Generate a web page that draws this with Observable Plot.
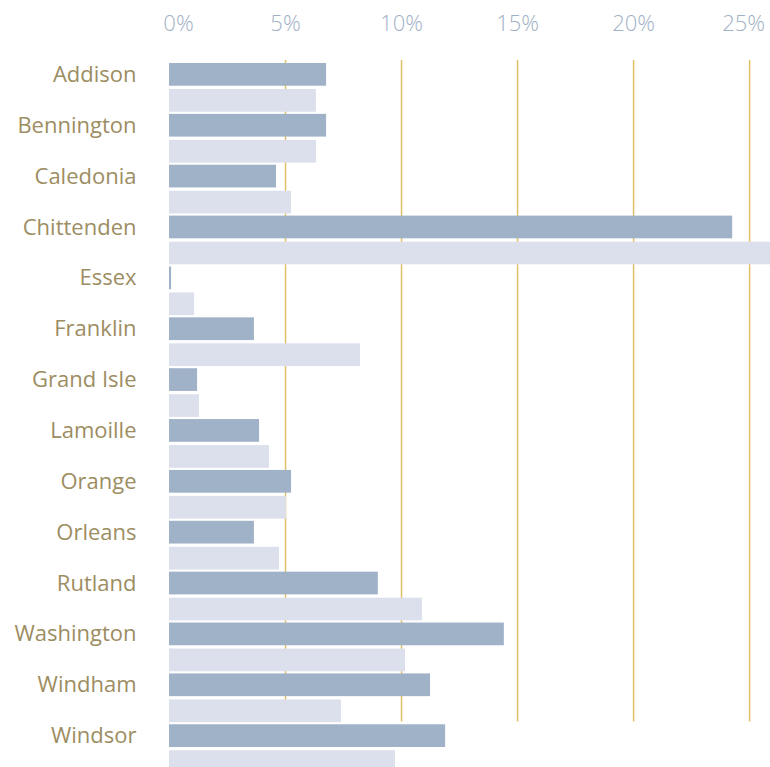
<!DOCTYPE html>
<html>
<head>
<meta charset="utf-8">
<script src="https://cdn.jsdelivr.net/npm/d3@7"></script>
<script src="https://cdn.jsdelivr.net/npm/@observablehq/plot@0.6"></script>
<style>
  html, body { margin: 0; padding: 0; background: #fff; overflow: hidden; }
  #chart svg { display: block; }
</style>
</head>
<body>
<div id="chart"></div>
<script>
const counties = ["Addison","Bennington","Caledonia","Chittenden","Essex","Franklin","Grand Isle","Lamoille","Orange","Orleans","Rutland","Washington","Windham","Windsor"];
const seriesA = [6.77, 6.77, 4.61, 24.27, 0.09, 3.66, 1.21, 3.88, 5.26, 3.66, 9.0, 14.43, 11.25, 11.9];
const seriesB = [6.33, 6.34, 5.26, 25.9, 1.08, 8.23, 1.29, 4.31, 5.04, 4.74, 10.9, 10.17, 7.41, 9.74];
const tickValues = [0, 5, 10, 15, 20, 25];
const gridValues = [5, 10, 15, 20, 25];

const rowsA = counties.map((c, i) => ({county: c, value: seriesA[i]}));
const rowsB = counties.map((c, i) => ({county: c, value: seriesB[i]}));

const xMax = d3.max([...seriesA, ...seriesB]);
const fmt = d => d + "%";
const tickStyle = {anchor: "top", tickSize: 0, tickPadding: 30, tickFormat: fmt, fill: "#9fb1c6", fontSize: 22, fontFamily: "Open Sans", fontWeight: 300, letterSpacing: "2px", label: null};

const chart = Plot.plot({
  width: 770,
  height: 776,
  marginTop: 60,
  marginBottom: 0,
  marginLeft: 169,
  marginRight: 0,
  style: {fontFamily: "Open Sans", background: "#fff", overflow: "visible"},
  x: {domain: [0, xMax], axis: null, label: null},
  y: {domain: counties, paddingInner: 0.042, paddingOuter: 0.059, round: false, axis: null, label: null},
  marks: [
    Plot.ruleX(gridValues, {x: d => d, y1: () => counties[0], y2: () => counties[counties.length - 2], insetTop: -3, insetBottom: 0.7, stroke: "#e0c064", strokeWidth: 1.5}),
    Plot.barX(rowsA, {x: "value", y: "county", insetBottom: 26, fill: "#a0b2c8"}),
    Plot.barX(rowsB, {x: "value", y: "county", insetTop: 26, fill: "#dce0ec"}),
    Plot.axisX([0], {...tickStyle, dx: 9}),
    Plot.axisX([5, 10, 15, 20], tickStyle),
    Plot.axisX([25], {...tickStyle, dx: -6}),
    Plot.axisY({tickSize: 0, tickPadding: 33, dy: -13, fill: "#9d8d62", fontSize: 22, fontFamily: "Open Sans", fontWeight: 400, letterSpacing: "1px", label: null})
  ]
});
document.getElementById("chart").appendChild(chart);
</script>
</body>
</html>
